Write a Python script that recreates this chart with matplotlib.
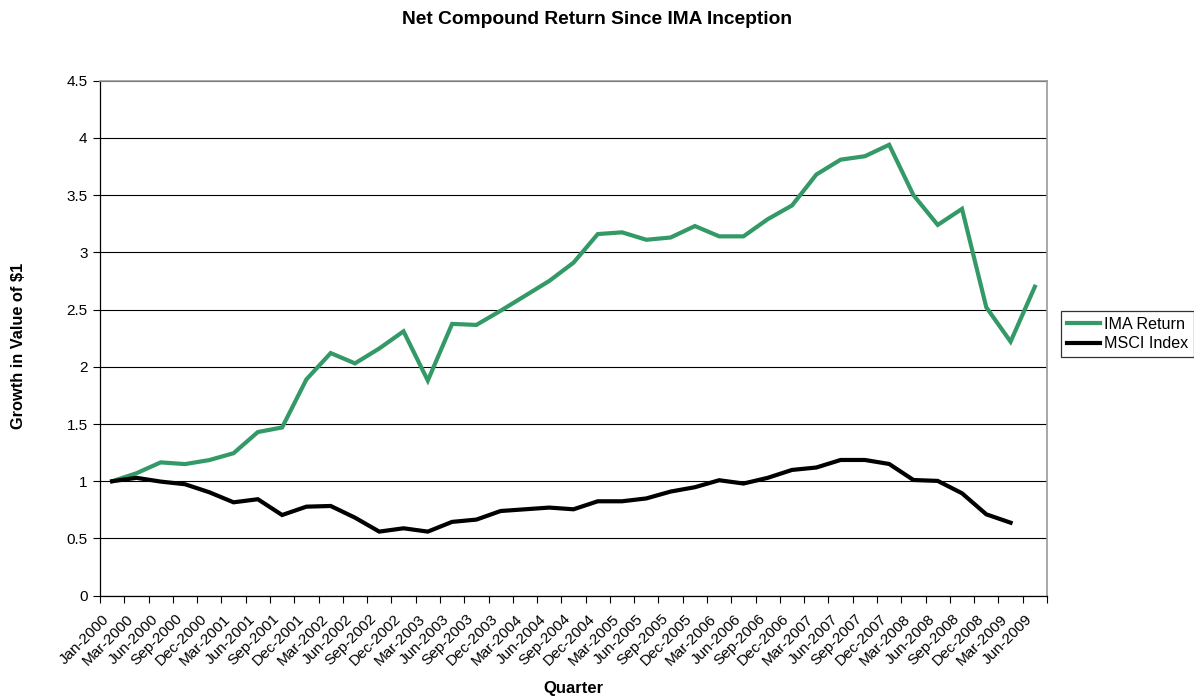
import matplotlib
matplotlib.use("Agg")
import matplotlib.pyplot as plt
import matplotlib.transforms as mtransforms
import numpy as np

quarters = ["Jan-2000", "Mar-2000", "Jun-2000", "Sep-2000", "Dec-2000",
            "Mar-2001", "Jun-2001", "Sep-2001", "Dec-2001",
            "Mar-2002", "Jun-2002", "Sep-2002", "Dec-2002",
            "Mar-2003", "Jun-2003", "Sep-2003", "Dec-2003",
            "Mar-2004", "Jun-2004", "Sep-2004", "Dec-2004",
            "Mar-2005", "Jun-2005", "Sep-2005", "Dec-2005",
            "Mar-2006", "Jun-2006", "Sep-2006", "Dec-2006",
            "Mar-2007", "Jun-2007", "Sep-2007", "Dec-2007",
            "Mar-2008", "Jun-2008", "Sep-2008", "Dec-2008",
            "Mar-2009", "Jun-2009"]

ima_return = [1.00, 1.07, 1.165, 1.15, 1.185, 1.245, 1.43, 1.47, 1.89, 2.12,
              2.03, 2.16, 2.31, 1.88, 2.375, 2.366, 2.49, 2.62, 2.75, 2.91,
              3.16, 3.175, 3.11, 3.13, 3.23, 3.14, 3.14, 3.29, 3.41, 3.68,
              3.81, 3.84, 3.94, 3.50, 3.24, 3.38, 2.52, 2.22, 2.70]

msci_index = [1.00, 1.03, 0.997, 0.974, 0.904, 0.816, 0.843, 0.705, 0.778, 0.784,
              0.682, 0.56, 0.589, 0.56, 0.645, 0.665, 0.74, 0.755, 0.77, 0.755,
              0.825, 0.825, 0.85, 0.91, 0.948, 1.009, 0.98, 1.03, 1.099, 1.12,
              1.186, 1.186, 1.151, 1.011, 1.003, 0.895, 0.711, 0.638]

plt.rcParams['font.family'] = ['Liberation Sans', 'DejaVu Sans']

fig = plt.figure(figsize=(11.94, 6.98), dpi=100)
ax = fig.add_axes([100/1194, 1-595.7/698, (1047-100)/1194, (595.7-80.7)/698])

x_ima = np.arange(len(ima_return))
x_msci = np.arange(len(msci_index))
ax.plot(x_ima, ima_return, color='#339966', lw=3.0, label='IMA Return',
        solid_joinstyle='miter', zorder=3)
ax.plot(x_msci, msci_index, color='#000000', lw=3.0, label='MSCI Index',
        solid_joinstyle='miter', zorder=3)

ax.set_xlim(-0.5, len(quarters) - 0.5)
ax.set_ylim(0, 4.5)
ax.set_yticks(np.arange(0, 4.51, 0.5))
ax.set_yticklabels(['0', '0.5', '1', '1.5', '2', '2.5', '3', '3.5', '4', '4.5'])
ax.yaxis.grid(True, color='#000000', lw=0.8)
ax.set_axisbelow(True)

ax.set_xticks(np.arange(len(quarters)))
ax.set_xticklabels(quarters, rotation=45, ha='right', va='center',
                   rotation_mode='anchor')
ax.set_xticks(np.arange(len(quarters) + 1) - 0.5, minor=True)
ax.tick_params(axis='x', which='major', length=0, pad=0, labelsize=11)
ax.tick_params(axis='x', which='minor', length=5, width=0.8, color='#000000')
ax.tick_params(axis='y', length=5, width=0.8, labelsize=11, pad=4)

offset = mtransforms.ScaledTranslation(-5/100, -21/100, fig.dpi_scale_trans)
for lab in ax.get_xticklabels():
    lab.set_transform(lab.get_transform() + offset)

for s in ['left', 'bottom']:
    ax.spines[s].set_color('#000000')
    ax.spines[s].set_linewidth(0.9)
for s in ['top', 'right']:
    ax.spines[s].set_color('#999999')
    ax.spines[s].set_linewidth(1.2)

fig.text(597/1194, 1-19/698, 'Net Compound Return Since IMA Inception',
         ha='center', va='center', fontsize=13.8, fontweight='bold')
fig.text(19/1194, 1-346/698, 'Growth in Value of $1', rotation=90,
         ha='center', va='center', fontsize=11.8, fontweight='bold')
fig.text(573/1194, 1-689/698, 'Quarter', ha='center', va='center',
         fontsize=12, fontweight='bold')

leg = fig.legend(loc='center left', bbox_to_anchor=(1061/1194, 1-334/698),
                 frameon=True, fancybox=False, shadow=False, fontsize=11.6,
                 handlelength=2.1, handletextpad=0.2, borderpad=0.35,
                 labelspacing=0.3, borderaxespad=0)
leg.get_frame().set_edgecolor('#000000')
leg.get_frame().set_linewidth(0.9)

fig.savefig('out.png', dpi=100)
